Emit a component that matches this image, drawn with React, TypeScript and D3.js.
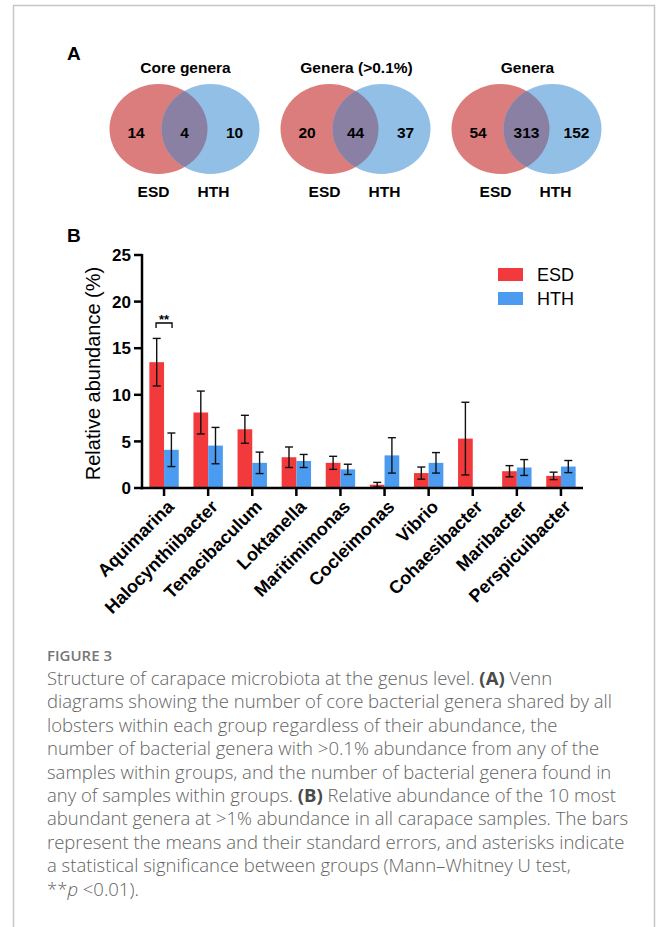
import React from "react";
import * as d3 from "d3";

// Panel A: Venn counts
const vennTitles = ["Core genera", "Genera (>0.1%)", "Genera"];
const vennEsdOnly = [14, 20, 54];
const vennShared = [4, 44, 313];
const vennHthOnly = [10, 37, 152];

// Panel B: relative abundance (%) by genus
const genera = [
  "Aquimarina",
  "Halocynthiibacter",
  "Tenacibaculum",
  "Loktanella",
  "Maritimimonas",
  "Cocleimonas",
  "Vibrio",
  "Cohaesibacter",
  "Maribacter",
  "Perspicuibacter",
];
const esdMean = [13.5, 8.1, 6.3, 3.3, 2.7, 0.35, 1.6, 5.3, 1.8, 1.3];
const esdSE = [2.55, 2.3, 1.5, 1.1, 0.7, 0.25, 0.65, 3.9, 0.6, 0.4];
const hthMean = [4.1, 4.55, 2.7, 2.9, 2.0, 3.5, 2.7, 0.08, 2.2, 2.3];
const hthSE = [1.8, 1.95, 1.15, 0.7, 0.55, 1.9, 1.1, 0, 0.85, 0.65];
const yTicks = [0, 5, 10, 15, 20, 25];
const groups = ["ESD", "HTH"];

const captionLines: { t: string; s?: "b" | "i" }[][] = [
  [{ t: "Structure of carapace microbiota at the genus level. " }, { t: "(A)", s: "b" }, { t: " Venn" }],
  [{ t: "diagrams showing the number of core bacterial genera shared by all" }],
  [{ t: "lobsters within each group regardless of their abundance, the" }],
  [{ t: "number of bacterial genera with >0.1% abundance from any of the" }],
  [{ t: "samples within groups, and the number of bacterial genera found in" }],
  [{ t: "any of samples within groups. " }, { t: "(B)", s: "b" }, { t: " Relative abundance of the 10 most" }],
  [{ t: "abundant genera at >1% abundance in all carapace samples. The bars" }],
  [{ t: "represent the means and their standard errors, and asterisks indicate" }],
  [{ t: "a statistical significance between groups (Mann\u2013Whitney U test," }],
  [{ t: "**" }, { t: "p", s: "i" }, { t: " <0.01)." }],
];

const W = 656;
const H = 927;
const ARIAL = "'Liberation Sans', Arial, Helvetica, sans-serif";
const RED = "#f2393c";
const BLUE = "#4b9cf0";
const V_RED = "#db7d7c";
const V_BLUE = "#92bfe6";
const V_MID = "#8a80a3";

export default function App() {
  const x = d3.scaleBand<string>().domain(genera).range([142, 583]).padding(0);
  const y = d3.scaleLinear().domain([0, 25]).range([488, 255]);
  const sub = d3.scaleBand<string>().domain(groups).range([-14.7, 14.7]).padding(0);

  const vennCx = (i: number) => 158.5 + 171 * i;
  const vennGap = 52;
  const rx = 49;
  const ry = 45;
  const cy = 129;

  const bars = genera.flatMap((g, i) => [
    { g, grp: "ESD", v: esdMean[i], e: esdSE[i], c: RED },
    { g, grp: "HTH", v: hthMean[i], e: hthSE[i], c: BLUE },
  ]);

  return (
    <div style={{ position: "absolute", left: 0, top: 0 }}>
      <svg width={W} height={H} xmlns="http://www.w3.org/2000/svg" style={{ display: "block", background: "#fff" }}>
        {/* frame */}
        <path d={`M13.5,${H} V5.5 H654.5 V${H}`} fill="none" stroke="#c6c6c6" strokeWidth={1.5} />

        {/* Panel A */}
        <text x={67} y={60} fontFamily={ARIAL} fontWeight="bold" fontSize={19}>A</text>
        <defs>
          {vennTitles.map((_, i) => (
            <clipPath id={`clip-red-${i}`} key={i}>
              <ellipse cx={vennCx(i)} cy={cy} rx={rx} ry={ry} />
            </clipPath>
          ))}
        </defs>
        {vennTitles.map((title, i) => {
          const rc = vennCx(i);
          const bc = rc + vennGap;
          return (
            <g key={title} fontFamily={ARIAL} fontWeight="bold" textAnchor="middle">
              <text x={(rc + bc) / 2 + 1} y={73} fontSize={15.5}>{title}</text>
              <ellipse cx={rc} cy={cy} rx={rx} ry={ry} fill={V_RED} />
              <ellipse cx={bc} cy={cy} rx={rx} ry={ry} fill={V_BLUE} />
              <ellipse cx={bc} cy={cy} rx={rx} ry={ry} fill={V_MID} clipPath={`url(#clip-red-${i})`} />
              <text x={rc - 22.5} y={138} fontSize={15.5}>{vennEsdOnly[i]}</text>
              <text x={(rc + bc) / 2} y={138} fontSize={15.5}>{vennShared[i]}</text>
              <text x={bc + 24} y={138} fontSize={15.5}>{vennHthOnly[i]}</text>
              <text x={rc - 5} y={197} fontSize={15.5}>ESD</text>
              <text x={bc + 3} y={197} fontSize={15.5}>HTH</text>
            </g>
          );
        })}

        {/* Panel B */}
        <text x={67} y={242} fontFamily={ARIAL} fontWeight="bold" fontSize={19}>B</text>

        {bars.map((b) => {
          const bx = (x(b.g) as number) + x.bandwidth() / 2 + (sub(b.grp) as number);
          const bw = sub.bandwidth();
          return (
            <rect key={b.g + b.grp} x={bx} y={y(b.v)} width={bw} height={y(0) - y(b.v)} fill={b.c} />
          );
        })}
        {bars
          .filter((b) => b.e > 0)
          .map((b) => {
            const cx = (x(b.g) as number) + x.bandwidth() / 2 + (sub(b.grp) as number) + sub.bandwidth() / 2;
            const top = y(b.v + b.e);
            const bot = y(Math.max(0, b.v - b.e));
            return (
              <g key={"e" + b.g + b.grp} stroke="#111" strokeWidth={1.4} fill="none">
                <line x1={cx} x2={cx} y1={top} y2={bot} />
                <line x1={cx - 4} x2={cx + 4} y1={top} y2={top} />
                <line x1={cx - 4} x2={cx + 4} y1={bot} y2={bot} />
              </g>
            );
          })}

        {/* y axis */}
        <g fontFamily={ARIAL}>
          <line x1={142} x2={142} y1={y(25) - 1} y2={y(0) + 1.25} stroke="#000" strokeWidth={2.5} />
          {yTicks.map((t) => (
            <g key={t}>
              <line x1={134} x2={142} y1={y(t)} y2={y(t)} stroke="#000" strokeWidth={2.5} />
              <text x={131} y={y(t)} dy="0.36em" textAnchor="end" fontWeight="bold" fontSize={17}>{t}</text>
            </g>
          ))}
          <text
            transform={`translate(100,${(y(0) + y(25)) / 2 + 2}) rotate(-90)`}
            textAnchor="middle"
            fontSize={20}
          >
            Relative abundance (%)
          </text>
        </g>

        {/* x axis */}
        <g fontFamily={ARIAL}>
          <line x1={140.75} x2={583} y1={y(0)} y2={y(0)} stroke="#000" strokeWidth={2.5} />
          {genera.map((g) => {
            const cx = (x(g) as number) + x.bandwidth() / 2;
            return (
              <g key={g}>
                <line x1={cx} x2={cx} y1={y(0)} y2={y(0) + 8} stroke="#000" strokeWidth={2.5} />
                <text
                  transform={`translate(${cx + 2},${y(0) + 11}) rotate(-45)`}
                  textAnchor="end"
                  dy="0.7em"
                  fontWeight="bold"
                  fontSize={18}
                >
                  {g}
                </text>
              </g>
            );
          })}
        </g>

        {/* significance marker */}
        {(() => {
          const c = (x(genera[0]) as number) + x.bandwidth() / 2;
          return (
            <g>
              <path d={`M${c - 8},${328} V${323} H${c + 8} V${328}`} fill="none" stroke="#000" strokeWidth={1.3} />
              <text x={c} y={324} textAnchor="middle" fontFamily={ARIAL} fontWeight="bold" fontSize={13}>**</text>
            </g>
          );
        })()}

        {/* legend */}
        <g fontFamily={ARIAL} fontSize={18}>
          {groups.map((g, i) => (
            <g key={g} transform={`translate(498,${268 + i * 24})`}>
              <rect width={25} height={13} fill={i === 0 ? RED : BLUE} />
              <text x={39} y={13}>{g}</text>
            </g>
          ))}
        </g>

        {/* caption */}
        <g fontFamily="'Open Sans', 'Noto Sans', sans-serif" fill="#636363">
          <text x={47} y={661} fontSize={15} fontWeight={600} fill="#777">FIGURE 3</text>
          {captionLines.map((line, i) => (
            <text key={i} x={47} y={685 + i * 23.4} fontSize={18.5} fontWeight={300}>
              {line.map((seg, j) => (
                <tspan
                  key={j}
                  fontWeight={seg.s === "b" ? 700 : 300}
                  fontStyle={seg.s === "i" ? "italic" : "normal"}
                  fill={seg.s === "b" ? "#4a4a4a" : undefined}
                >
                  {seg.t}
                </tspan>
              ))}
            </text>
          ))}
        </g>
      </svg>
    </div>
  );
}
